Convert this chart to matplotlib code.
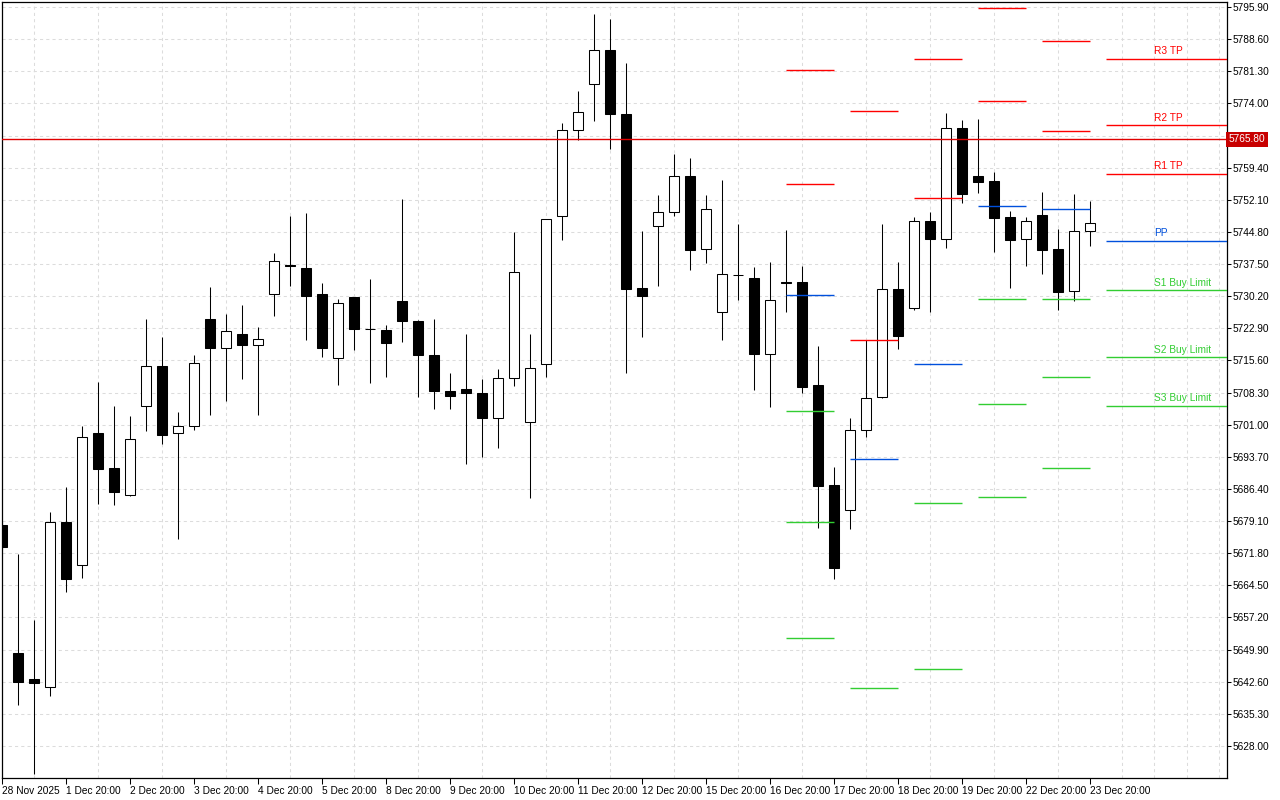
# MT4 style H6 chart with daily pivot levels

import numpy as np
import matplotlib.pyplot as plt
import matplotlib.transforms as mtransforms

plt.rcParams['font.family'] = ['Liberation Sans', 'DejaVu Sans']

# x axis labels, one every 4 candles
date_labels = ["28 Nov 2025", "1 Dec 20:00", "2 Dec 20:00", "3 Dec 20:00", "4 Dec 20:00",
               "5 Dec 20:00", "8 Dec 20:00", "9 Dec 20:00", "10 Dec 20:00", "11 Dec 20:00",
               "12 Dec 20:00", "15 Dec 20:00", "16 Dec 20:00", "17 Dec 20:00", "18 Dec 20:00",
               "19 Dec 20:00", "22 Dec 20:00", "23 Dec 20:00"]

# candles
opens = [5678.3, 5649.2, 5643.2, 5641.5, 5678.9, 5669.1, 5699.0, 5691.1, 5685.0, 5705.2,
         5714.4, 5699.1, 5700.8, 5725.1, 5718.4, 5721.6, 5719.1, 5730.6, 5737.3, 5736.5,
         5730.6, 5716.2, 5729.9, 5722.8, 5722.6, 5729.2, 5724.6, 5716.9, 5708.7, 5709.2,
         5708.3, 5702.6, 5711.6, 5701.6, 5714.7, 5748.5, 5767.9, 5778.4, 5786.1, 5771.5,
         5732.0, 5746.1, 5749.4, 5757.5, 5740.9, 5726.5, 5734.9, 5734.3, 5717.0, 5733.4,
         5733.5, 5709.9, 5687.2, 5681.6, 5699.8, 5707.3, 5731.9, 5727.4, 5747.3, 5743.1,
         5768.4, 5757.5, 5756.4, 5748.2, 5743.1, 5748.6, 5740.9, 5731.3, 5744.9]
highs = [5679.0, 5671.7, 5656.5, 5681.1, 5686.9, 5700.8, 5710.6, 5705.3, 5702.9, 5725.0,
         5720.9, 5703.8, 5716.8, 5732.3, 5726.1, 5728.1, 5723.2, 5740.0, 5748.4, 5749.2,
         5733.3, 5729.5, 5729.9, 5734.0, 5723.7, 5752.3, 5724.7, 5724.9, 5712.7, 5721.5,
         5711.3, 5713.7, 5744.7, 5721.7, 5747.8, 5769.5, 5776.8, 5794.4, 5793.2, 5783.1,
         5745.0, 5753.2, 5762.5, 5761.6, 5753.2, 5756.6, 5746.6, 5736.8, 5737.9, 5745.2,
         5737.0, 5718.9, 5691.3, 5702.6, 5720.2, 5746.6, 5738.0, 5748.2, 5749.3, 5771.8,
         5770.2, 5770.4, 5758.4, 5749.6, 5748.1, 5753.9, 5745.5, 5753.3, 5751.9]
lows = [5672.8, 5637.3, 5621.7, 5639.4, 5662.9, 5666.1, 5683.0, 5682.7, 5684.7, 5699.6,
        5696.7, 5675.1, 5699.7, 5703.2, 5706.4, 5711.3, 5703.2, 5725.6, 5732.5, 5720.2,
        5716.4, 5710.0, 5718.0, 5710.5, 5711.8, 5719.8, 5707.3, 5704.5, 5704.5, 5692.0,
        5693.6, 5695.7, 5709.7, 5684.3, 5711.9, 5743.0, 5765.7, 5770.1, 5763.7, 5712.8,
        5721.0, 5732.4, 5748.5, 5736.2, 5737.8, 5720.3, 5729.4, 5708.9, 5705.1, 5726.5,
        5708.2, 5677.5, 5666.0, 5677.2, 5698.2, 5707.1, 5718.2, 5727.0, 5726.7, 5741.2,
        5751.3, 5753.7, 5740.3, 5732.1, 5737.1, 5735.3, 5727.1, 5729.2, 5741.7]
closes = [5673.2, 5642.6, 5642.2, 5678.9, 5665.9, 5698.3, 5690.9, 5685.7, 5697.8, 5714.4,
          5698.6, 5700.8, 5714.9, 5718.4, 5722.2, 5719.1, 5720.5, 5738.1, 5737.1, 5730.3,
          5718.4, 5728.7, 5722.7, 5722.7, 5719.6, 5724.6, 5716.8, 5708.6, 5707.5, 5708.2,
          5702.5, 5711.6, 5735.8, 5713.8, 5747.7, 5767.9, 5772.0, 5786.1, 5771.5, 5731.9,
          5730.3, 5749.3, 5757.5, 5740.8, 5749.9, 5735.2, 5734.9, 5717.1, 5729.3, 5733.2,
          5709.5, 5687.0, 5668.4, 5699.8, 5707.1, 5731.9, 5721.1, 5747.3, 5743.1, 5768.4,
          5753.3, 5756.2, 5748.0, 5743.0, 5747.2, 5740.8, 5731.2, 5744.9, 5746.8]

# previous days pivot segments (first candle of each day), nan = off chart
piv_start = [49, 53, 57, 61, 65]
r2_lv = [5781.7, 5772.2, 5784.2, 5795.7, 5788.1]
r1_lv = [5755.6, 5720.2, 5752.4, 5774.5, 5767.7]
pp_lv = [5730.4, 5693.1, 5714.7, 5750.6, 5749.9]
s1_lv = [5704.0, 5641.1, 5683.1, 5729.5, 5729.5]
s2_lv = [5678.8, np.nan, 5645.4, 5705.6, 5711.8]
s3_lv = [5652.5, np.nan, np.nan, 5684.5, 5691.1]

# current day levels
cur_names = ["R3 TP", "R2 TP", "R1 TP", "PP", "S1 Buy Limit", "S2 Buy Limit", "S3 Buy Limit"]
cur_levels = [5784.2, 5769.0, 5758.0, 5742.7, 5731.5, 5716.3, 5705.2]

last_price = 5765.80

RED = '#ff0000'
BLUE = '#0050dc'
GREEN = '#32cd32'

fig = plt.figure(figsize=(12.8, 8), dpi=100)
ax = fig.add_axes([2 / 1280, 22 / 800, 1225 / 1280, 776 / 800])

n = len(opens)
x = np.arange(n)
o = np.array(opens)
c = np.array(closes)
lw = 0.75
clw = 1.0  # coloured level lines

# wicks then bodies
ax.vlines(x, lows, highs, color='black', linewidth=lw, zorder=2)
up = c >= o
ax.bar(x[up], c[up] - o[up], bottom=o[up], width=0.62, facecolor='white',
       edgecolor='black', linewidth=lw, zorder=3)
ax.bar(x[~up], o[~up] - c[~up], bottom=c[~up], width=0.62, facecolor='black',
       edgecolor='black', linewidth=lw, zorder=3)

# pivot segments for past days
for i, s in enumerate(piv_start):
    for lv, col in [(r2_lv, RED), (r1_lv, RED), (pp_lv, BLUE),
                    (s1_lv, GREEN), (s2_lv, GREEN), (s3_lv, GREEN)]:
        if not np.isnan(lv[i]):
            ax.hlines(lv[i], s, s + 3, color=col, linewidth=clw, zorder=4)

# current day levels with labels
xmax = 76.53
for name, lv in zip(cur_names, cur_levels):
    if name.startswith("R"):
        col = RED
    elif name.startswith("S"):
        col = GREEN
    else:
        col = BLUE
    ax.hlines(lv, n, xmax, color=col, linewidth=clw, zorder=4)
    ax.annotate(name, (72, lv), xytext=(0, 2), textcoords='offset points',
                color=col, fontsize=7.3, ha='left', va='bottom')

# last price line and label
ax.axhline(last_price, color='#e00000', linewidth=clw, zorder=4)
trans = mtransforms.blended_transform_factory(ax.transAxes, ax.transData)
ax.text(1.0015, last_price, f"{last_price:.2f}", transform=trans, color='white',
        fontsize=7.3, ha='left', va='center', zorder=10, clip_on=False,
        bbox=dict(boxstyle='square,pad=0.25', facecolor='#c80000', edgecolor='none'))

# axes
ax.set_xlim(0.0, xmax)
ax.set_ylim(5620.71, 5797.04)

yt = [5628.0 + 7.3 * k for k in range(24)]
ax.yaxis.tick_right()
ax.set_yticks(yt)
# the tick under the price label is hidden, as on the terminal
ax.set_yticklabels(["" if abs(v - last_price) < 3 else f"{v:.2f}" for v in yt])
ax.set_xticks(range(0, n, 4))
ax.set_xticklabels(date_labels, ha='left')
ax.set_xticks(range(0, 78, 2), minor=True)

ax.tick_params(axis='y', direction='out', length=3, width=0.75, pad=1, labelsize=7.3)
ax.tick_params(axis='x', which='major', direction='out', length=4, width=0.75, pad=2, labelsize=7.3)
ax.tick_params(axis='x', which='minor', length=0)

ax.grid(True, axis='y', color='#dcdcdc', linestyle=(0, (3, 3)), linewidth=0.75, zorder=0)
ax.grid(True, axis='x', which='minor', color='#dcdcdc', linestyle=(0, (3, 3)), linewidth=0.75, zorder=0)
ax.grid(False, axis='x', which='major')
ax.set_axisbelow(True)

for sp in ax.spines.values():
    sp.set_linewidth(0.9)
    sp.set_color('black')

fig.savefig('out.png', dpi=100, facecolor='white')
